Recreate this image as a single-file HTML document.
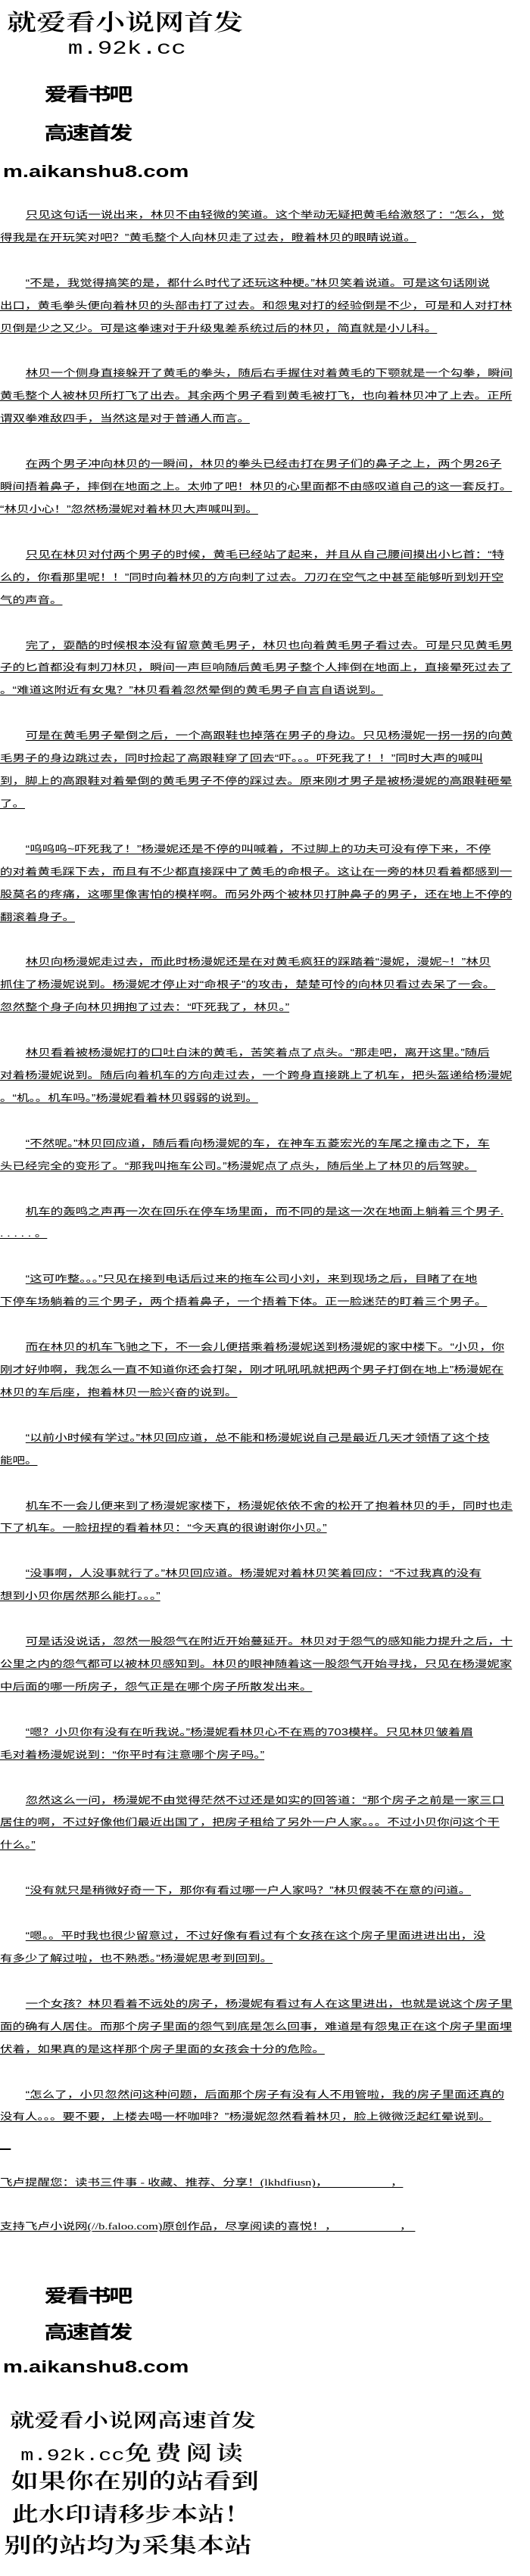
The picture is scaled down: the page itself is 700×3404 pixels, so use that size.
<!DOCTYPE html>
<html><head><meta charset="utf-8">
<style>
html,body{margin:0;padding:0;background:#fff;width:700px;height:3404px;overflow:hidden;}
#w{position:absolute;left:0;top:0;width:538px;height:3404px;transform:scaleX(1.3);transform-origin:0 0;color:#000;}
.a{position:absolute;white-space:nowrap;}
.k{font-family:"Liberation Serif","Noto Serif CJK SC",serif;font-weight:600;}
.hb{font-family:"Liberation Sans","Noto Sans CJK SC",sans-serif;font-weight:bold;font-size:24px;line-height:24px;letter-spacing:-2px;left:45px;}
.url{font-family:"Liberation Sans",sans-serif;font-weight:bold;font-size:22.5px;line-height:24px;left:3px;}
#body{position:absolute;left:0;top:270px;width:538px;font-family:"Liberation Sans","Noto Sans CJK SC",sans-serif;font-size:12.7px;line-height:29.93px;font-kerning:none;}
#body div{white-space:nowrap;height:29.93px;}
#body span{text-decoration:underline;text-decoration-thickness:1px;text-underline-offset:2px;}
#body .i{padding-left:26px;}
.ft{font-family:"Liberation Serif","Noto Sans CJK SC",serif;font-size:12.7px;line-height:29.93px;text-decoration:underline;text-decoration-thickness:1px;text-underline-offset:2px;left:0;}
</style></head><body>
<div id="w">
<div class="a k" style="left:7px;top:16px;font-size:30px;line-height:30px;">就爱看小说网首发</div>
<div class="a" style="left:69px;top:52px;font-family:'Liberation Mono',monospace;font-size:25px;line-height:26px;">m.92k.cc</div>
<div class="a hb" style="top:114px;">爱看书吧</div>
<div class="a hb" style="top:165px;">高速首发</div>
<div class="a url" style="top:215px;">m.aikanshu8.com</div>

<div id="body">
<div class="i"><span>只见这句话一说出来，林贝不由轻微的笑道。这个举动无疑把黄毛给激怒了：“怎么，觉</span></div>
<div><span>得我是在开玩笑对吧？”黄毛整个人向林贝走了过去，瞪着林贝的眼睛说道。</span></div>
<div></div>
<div class="i"><span>“不是，我觉得搞笑的是，都什么时代了还玩这种梗。”林贝笑着说道。可是这句话刚说</span></div>
<div><span>出口，黄毛拳头便向着林贝的头部击打了过去。和怨鬼对打的经验倒是不少，可是和人对打林</span></div>
<div><span>贝倒是少之又少。可是这拳速对于升级鬼差系统过后的林贝，简直就是小儿科。</span></div>
<div></div>
<div class="i"><span>林贝一个侧身直接躲开了黄毛的拳头，随后右手握住对着黄毛的下颚就是一个勾拳，瞬间</span></div>
<div><span>黄毛整个人被林贝所打飞了出去。其余两个男子看到黄毛被打飞，也向着林贝冲了上去。正所</span></div>
<div><span>谓双拳难敌四手，当然这是对于普通人而言。</span></div>
<div></div>
<div class="i"><span>在两个男子冲向林贝的一瞬间，林贝的拳头已经击打在男子们的鼻子之上，两个男26子</span></div>
<div><span>瞬间捂着鼻子，摔倒在地面之上。太帅了吧！林贝的心里面都不由感叹道自己的这一套反打。</span></div>
<div><span>“林贝小心！”忽然杨漫妮对着林贝大声喊叫到。</span></div>
<div></div>
<div class="i"><span>只见在林贝对付两个男子的时候，黄毛已经站了起来，并且从自己腰间摸出小匕首：“特</span></div>
<div><span>么的，你看那里呢！！”同时向着林贝的方向刺了过去。刀刃在空气之中甚至能够听到划开空</span></div>
<div><span>气的声音。</span></div>
<div></div>
<div class="i"><span>完了，耍酷的时候根本没有留意黄毛男子，林贝也向着黄毛男子看过去。可是只见黄毛男</span></div>
<div><span>子的匕首都没有刺刀林贝，瞬间一声巨响随后黄毛男子整个人摔倒在地面上，直接晕死过去了</span></div>
<div><span>。“难道这附近有女鬼？”林贝看着忽然晕倒的黄毛男子自言自语说到。</span></div>
<div></div>
<div class="i"><span>可是在黄毛男子晕倒之后，一个高跟鞋也掉落在男子的身边。只见杨漫妮一拐一拐的向黄</span></div>
<div><span>毛男子的身边跳过去，同时捡起了高跟鞋穿了回去“吓。。。吓死我了！！”同时大声的喊叫</span></div>
<div><span>到，脚上的高跟鞋对着晕倒的黄毛男子不停的踩过去。原来刚才男子是被杨漫妮的高跟鞋砸晕</span></div>
<div><span>了。</span></div>
<div></div>
<div class="i"><span>“呜呜呜~吓死我了！”杨漫妮还是不停的叫喊着，不过脚上的功夫可没有停下来，不停</span></div>
<div><span>的对着黄毛踩下去，而且有不少都直接踩中了黄毛的命根子。这让在一旁的林贝看着都感到一</span></div>
<div><span>股莫名的疼痛，这哪里像害怕的模样啊。而另外两个被林贝打肿鼻子的男子，还在地上不停的</span></div>
<div><span>翻滚着身子。</span></div>
<div></div>
<div class="i"><span>林贝向杨漫妮走过去，而此时杨漫妮还是在对黄毛疯狂的踩踏着“漫妮，漫妮~！”林贝</span></div>
<div><span>抓住了杨漫妮说到。杨漫妮才停止对“命根子”的攻击，楚楚可怜的向林贝看过去呆了一会。</span></div>
<div><span>忽然整个身子向林贝拥抱了过去：“吓死我了，林贝。”</span></div>
<div></div>
<div class="i"><span>林贝看着被杨漫妮打的口吐白沫的黄毛，苦笑着点了点头。“那走吧，离开这里。”随后</span></div>
<div><span>对着杨漫妮说到。随后向着机车的方向走过去，一个跨身直接跳上了机车，把头盔递给杨漫妮</span></div>
<div><span>。“机。。机车吗。”杨漫妮看着林贝弱弱的说到。</span></div>
<div></div>
<div class="i"><span>“不然呢。”林贝回应道，随后看向杨漫妮的车，在神车五菱宏光的车尾之撞击之下，车</span></div>
<div><span>头已经完全的变形了。“那我叫拖车公司。”杨漫妮点了点头，随后坐上了林贝的后驾驶。</span></div>
<div></div>
<div class="i"><span>机车的轰鸣之声再一次在回乐在停车场里面，而不同的是这一次在地面上躺着三个男子.</span></div>
<div><span>. . . . . 。</span></div>
<div></div>
<div class="i"><span>“这可咋整。。。”只见在接到电话后过来的拖车公司小刘，来到现场之后，目睹了在地</span></div>
<div><span>下停车场躺着的三个男子，两个捂着鼻子，一个捂着下体。正一脸迷茫的盯着三个男子。</span></div>
<div></div>
<div class="i"><span>而在林贝的机车飞驰之下，不一会儿便搭乘着杨漫妮送到杨漫妮的家中楼下。“小贝，你</span></div>
<div><span>刚才好帅啊，我怎么一直不知道你还会打架，刚才吼吼吼就把两个男子打倒在地上”杨漫妮在</span></div>
<div><span>林贝的车后座，抱着林贝一脸兴奋的说到。</span></div>
<div></div>
<div class="i"><span>“以前小时候有学过。”林贝回应道，总不能和杨漫妮说自己是最近几天才领悟了这个技</span></div>
<div><span>能吧。</span></div>
<div></div>
<div class="i"><span>机车不一会儿便来到了杨漫妮家楼下，杨漫妮依依不舍的松开了抱着林贝的手，同时也走</span></div>
<div><span>下了机车。一脸扭捏的看着林贝：“今天真的很谢谢你小贝。”</span></div>
<div></div>
<div class="i"><span>“没事啊，人没事就行了。”林贝回应道。杨漫妮对着林贝笑着回应：“不过我真的没有</span></div>
<div><span>想到小贝你居然那么能打。。。”</span></div>
<div></div>
<div class="i"><span>可是话没说话，忽然一股怨气在附近开始蔓延开。林贝对于怨气的感知能力提升之后，十</span></div>
<div><span>公里之内的怨气都可以被林贝感知到。林贝的眼神随着这一股怨气开始寻找，只见在杨漫妮家</span></div>
<div><span>中后面的哪一所房子，怨气正是在哪个房子所散发出来。</span></div>
<div></div>
<div class="i"><span>“嗯？小贝你有没有在听我说。”杨漫妮看林贝心不在焉的703模样。只见林贝皱着眉</span></div>
<div><span>毛对着杨漫妮说到：“你平时有注意哪个房子吗。”</span></div>
<div></div>
<div class="i"><span>忽然这么一问，杨漫妮不由觉得茫然不过还是如实的回答道：“那个房子之前是一家三口</span></div>
<div><span>居住的啊，不过好像他们最近出国了，把房子租给了另外一户人家。。。不过小贝你问这个干</span></div>
<div><span>什么。”</span></div>
<div></div>
<div class="i"><span>“没有就只是稍微好奇一下，那你有看过哪一户人家吗？”林贝假装不在意的问道。</span></div>
<div></div>
<div class="i"><span>“嗯。。平时我也很少留意过，不过好像有看过有个女孩在这个房子里面进进出出，没</span></div>
<div><span>有多少了解过啦，也不熟悉。”杨漫妮思考到回到。</span></div>
<div></div>
<div class="i"><span>一个女孩？林贝看着不远处的房子，杨漫妮有看过有人在这里进出，也就是说这个房子里</span></div>
<div><span>面的确有人居住。而那个房子里面的怨气到底是怎么回事，难道是有怨鬼正在这个房子里面埋</span></div>
<div><span>伏着，如果真的是这样那个房子里面的女孩会十分的危险。</span></div>
<div></div>
<div class="i"><span>“怎么了，小贝忽然问这种问题，后面那个房子有没有人不用管啦，我的房子里面还真的</span></div>
<div><span>没有人。。。要不要，上楼去喝一杯咖啡？”杨漫妮忽然看着林贝，脸上微微泛起红晕说到。</span></div>
</div>
<div class="a" style="left:0;top:2839px;width:11px;height:0;border-bottom:2px solid #000;"></div>

<div class="a ft" style="top:2870px;">飞卢提醒您：读书三件事 - 收藏、推荐、分享！(lkhdfiusn)，&nbsp;&nbsp;&nbsp;&nbsp;&nbsp;&nbsp;&nbsp;&nbsp;&nbsp;&nbsp;&nbsp;&nbsp;&nbsp;&nbsp;&nbsp;&nbsp;&nbsp;&nbsp;&nbsp;&nbsp;，</div>
<div class="a ft" style="top:2928px;">支持飞卢小说网(//b.faloo.com)原创作品，尽享阅读的喜悦！，&nbsp;&nbsp;&nbsp;&nbsp;&nbsp;&nbsp;&nbsp;&nbsp;&nbsp;&nbsp;&nbsp;&nbsp;&nbsp;&nbsp;&nbsp;&nbsp;&nbsp;&nbsp;&nbsp;&nbsp;，&nbsp;</div>

<div class="a hb" style="top:3023px;">爱看书吧</div>
<div class="a hb" style="top:3071px;">高速首发</div>
<div class="a url" style="top:3116px;">m.aikanshu8.com</div>

<div class="a k" style="left:10px;top:3187px;font-size:25px;line-height:26px;">就爱看小说网高速首发</div>
<div class="a" style="left:21px;top:3228px;line-height:28px;"><span style="font-family:'Liberation Mono',monospace;font-size:22px;">m.92k.cc</span><span class="k" style="font-size:27px;letter-spacing:4px;">免费阅读</span></div>
<div class="a k" style="left:11px;top:3266px;font-size:28px;line-height:28px;">如果你在别的站看到</div>
<div class="a k" style="left:12px;top:3309px;font-size:27px;line-height:28px;">此水印请移步本站！</div>
<div class="a k" style="left:4px;top:3351px;font-size:28px;line-height:28px;">别的站均为采集本站</div>
</div>
</body></html>
